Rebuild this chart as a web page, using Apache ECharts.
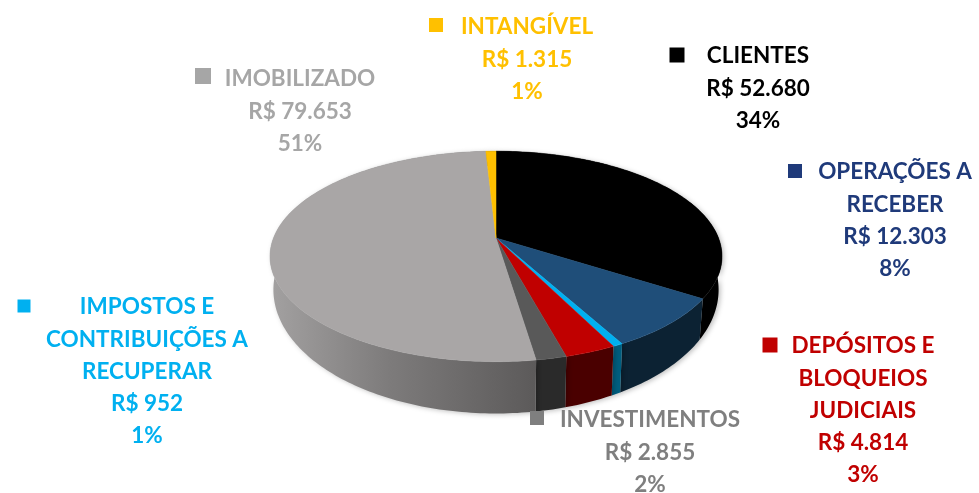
<!DOCTYPE html>
<html>
<head>
<meta charset="utf-8">
<title>Ativo</title>
<script src="https://cdn.jsdelivr.net/npm/echarts@6/dist/echarts.min.js"></script>
<style>
html, body { margin: 0; padding: 0; background: #fff; }
#chart { width: 979px; height: 493px; filter: blur(0.5px); }
</style>
</head>
<body>
<div id="chart"></div>
<script>
// fatias no sentido horario, a partir das 12h
const names = [
  ['CLIENTES'],
  ['OPERAÇÕES A', 'RECEBER'],
  ['IMPOSTOS E', 'CONTRIBUIÇÕES A', 'RECUPERAR'],
  ['DEPÓSITOS E', 'BLOQUEIOS', 'JUDICIAIS'],
  ['INVESTIMENTOS'],
  ['IMOBILIZADO'],
  ['INTANGÍVEL']
]
const values = [52680, 12303, 952, 4814, 2855, 79653, 1315]
const percents = ['34%', '8%', '1%', '3%', '2%', '51%', '1%']

const topColors = ['#000000', '#1f4e79', '#00b0f0', '#c00000', '#595959', '#a9a6a6', '#ffc000']
const sideColors = ['#000000', '#0c2233', '#005e7f', '#4a0000', '#2a2a2a', null, '#7f6000']
const textColors = ['#000000', '#1f3a7a', '#00b0f0', '#c00000', '#7f7f7f', '#a6a6a6', '#ffc000']

// centro do texto, primeira linha, e quadrado da legenda
const labelPos = [
  { x: 758, y: 56, mx: 677, my: 55, ms: 15 },
  { x: 895, y: 172, mx: 795, my: 171, ms: 14 },
  { x: 147, y: 307, mx: 24, my: 306, ms: 13 },
  { x: 863, y: 346, mx: 770, my: 345, ms: 15 },
  { x: 650, y: 420, mx: 537, my: 418, ms: 14 },
  { x: 300, y: 79, mx: 203, my: 76, ms: 16 },
  { x: 527, y: 27, mx: 436, my: 25, ms: 14 }
]

const total = values.reduce((a, b) => a + b, 0)
const money = v => 'R$ ' + String(v).replace(/\B(?=(\d{3})+$)/g, '.')

// disco em perspectiva
const cx = 496
const cy = 238
const rx = 222.5
const ry = 102
const k = 0.175

function topPoint (deg) {
  const a = deg * Math.PI / 180
  const w = 1 - k * -Math.cos(a)
  return [cx + rx * Math.sin(a) / w, cy + ry * -Math.cos(a) / w]
}

function bottomPoint (deg) {
  const a = deg * Math.PI / 180
  const w = 1 - k * -Math.cos(a)
  return [cx + rx * 0.985 * Math.sin(a) / w, 268 + 120 * -Math.cos(a) / w]
}

function sliceAngles (i) {
  let sum = 0
  for (let j = 0; j < i; j++) sum += values[j]
  return [sum / total * 360, (sum + values[i]) / total * 360]
}

function arc (from, to, fn) {
  const pts = []
  const n = Math.max(2, Math.ceil(to - from))
  for (let j = 0; j <= n; j++) pts.push(fn(from + (to - from) * j / n))
  return pts
}

function renderSide (params) {
  const i = params.dataIndex
  const [from, to] = sliceAngles(i)
  const points = arc(from, to, topPoint).concat(arc(from, to, bottomPoint).reverse())
  const fill = sideColors[i] || new echarts.graphic.LinearGradient(0, 0, 1, 0, [
    { offset: 0, color: '#a3a1a1' },
    { offset: 0.45, color: '#7d7b7b' },
    { offset: 1, color: '#5c5a5a' }
  ])
  return {
    type: 'polygon',
    shape: { points },
    style: { fill, shadowBlur: 5, shadowColor: 'rgba(0,0,0,0.25)', shadowOffsetX: 2, shadowOffsetY: 1 }
  }
}

function renderTop (params) {
  const i = params.dataIndex
  const [from, to] = sliceAngles(i)
  const points = [[cx, cy]].concat(arc(from, to, topPoint))
  return {
    type: 'polygon',
    shape: { points },
    style: { fill: topColors[i], stroke: topColors[i], lineWidth: 0.5 }
  }
}

const font = 'bold 22.5px Lato, sans-serif'
const graphics = []
names.forEach((lines, i) => {
  const p = labelPos[i]
  graphics.push({
    type: 'rect',
    shape: { x: p.mx - p.ms / 2, y: p.my - p.ms / 2, width: p.ms, height: p.ms },
    style: { fill: textColors[i] },
    z: 10
  })
  lines.concat([money(values[i]), percents[i]]).forEach((line, n) => {
    graphics.push({
      type: 'text',
      x: p.x,
      y: p.y + n * 32.3,
      style: { text: line, font, fill: textColors[i], align: 'center', verticalAlign: 'middle' },
      z: 10
    })
  })
})

const chart = echarts.init(document.getElementById('chart'))
chart.setOption({
  animation: false,
  backgroundColor: '#ffffff',
  graphic: graphics,
  series: [
    { type: 'custom', coordinateSystem: 'none', data: values, renderItem: renderSide, z: 1, silent: true },
    { type: 'custom', coordinateSystem: 'none', data: values, renderItem: renderTop, z: 2, silent: true }
  ]
})
</script>
</body>
</html>
